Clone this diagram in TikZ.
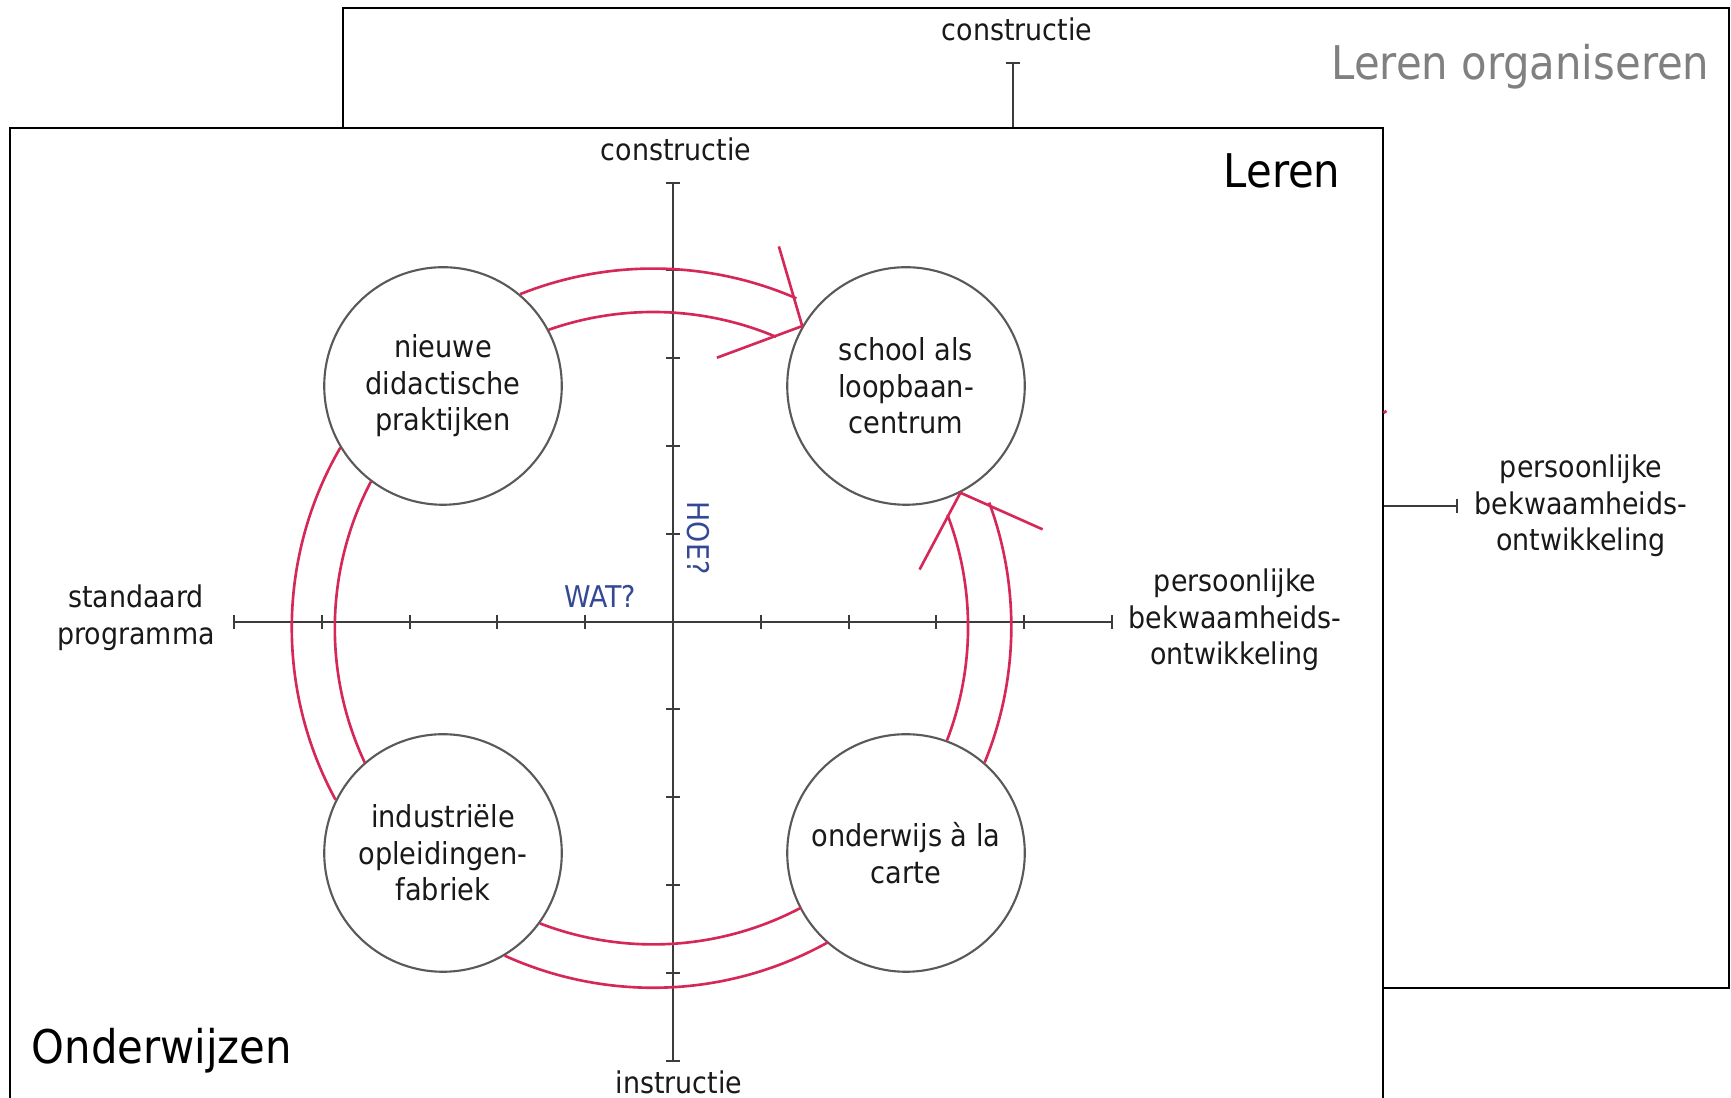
\documentclass[tikz,border=0pt]{standalone}
\usepackage{fontspec}
\setmainfont{DejaVu Sans Condensed}
\usetikzlibrary{calc}
\definecolor{arcred}{RGB}{214,40,88}
\definecolor{qblue}{RGB}{52,72,150}
\definecolor{axisgray}{RGB}{60,60,60}
\begin{document}
\begin{tikzpicture}[x=0.01cm,y=0.01cm,
  panel/.style={draw=black, line width=0.55pt, fill=white},
  axisline/.style={draw=axisgray, line width=0.6pt},
  lbl/.style={font=\fontsize{8.5}{10.4}\selectfont, align=center, text=black!90, inner sep=0pt},
  bigttl/.style={font=\fontsize{13.2}{15}\selectfont, inner sep=0pt},
  stage/.style={circle, draw=black!65, line width=0.6pt, fill=white, minimum size=2.374cm,
                inner sep=0pt, align=center, font=\fontsize{8.6}{10.4}\selectfont, text=black!90},
  band/.style={draw=arcred, line width=0.75pt},
]
\useasboundingbox (0,0) rectangle (1731,1098);

% ---------- back panel: Leren organiseren ----------
\path[panel] (343,110) rectangle (1729,1090);
\node[lbl] (bcon) at (1017,1069) {constructie};
\coordinate (bytop) at (1013,1035);
\coordinate (bybot) at (1013,970);
\draw[axisline] (bybot) -- (bytop);
\draw[axisline] ($(bytop)+(-7,0)$) -- ($(bytop)+(7,0)$);
\node[bigttl, text=black!50, anchor=base east] (lo) at (1710,1018) {Leren organiseren};
\node[lbl] (bpers) at (1581,592) {persoonlijke\\bekwaamheids-\\ontwikkeling};
\coordinate (bxl) at (1383,592);
\coordinate (bxr) at (1457,592);
\draw[axisline] (bxl) -- (bxr);
\draw[axisline] ($(bxr)+(0,-7)$) -- ($(bxr)+(0,7)$);

% ---------- front panel: Leren / Onderwijzen ----------
\path[panel] (10,-10) -- (10,970) -- (1383,970) -- (1383,-10);
\coordinate (stub) at (1383.5,685);
\draw[band] (stub) -- ++(3,2);
\node[bigttl, anchor=base east] (leren) at (1341,910) {Leren};
\node[bigttl, anchor=base west] (ond) at (31,34) {Onderwijzen};

% axes
\coordinate (O) at (673,476.4);
\coordinate (xl) at (234,476.4);
\coordinate (xr) at (1112,476.4);
\coordinate (yt) at (673,915.4);
\coordinate (yb) at (673,37.4);
\draw[axisline] (xl) -- (xr);
\draw[axisline] (yb) -- (yt);
\foreach \k in {-5,...,5}{
  \draw[axisline] ({673+\k*87.8},469.4) -- ++(0,14);
  \draw[axisline] (666,{476.4+\k*87.8}) -- ++(14,0);
}

\node[lbl] (con) at (676,949) {constructie};
\node[lbl] (ins) at (679,16) {instructie};
\node[lbl] (std) at (136,480) {standaard\\programma};
\node[lbl] (pers) at (1235,478) {persoonlijke\\bekwaamheids-\\ontwikkeling};
\node[lbl, text=qblue] (wat) at (600,502) {WAT?};
\node[lbl, text=qblue, rotate=-90] (hoe) at (698,560) {HOE?};

% stages
\node[stage] (tl) at (443,712) {nieuwe\\didactische\\praktijken};
\node[stage] (tr) at (906,712) {school als\\loopbaan-\\centrum};
\node[stage] (bl) at (443,245) {industriële\\opleidingen-\\fabriek};
\node[stage] (br) at (906,245) {onderwijs à la\\carte};

% cycle bands
\draw[band] (tl.50)  arc[start angle=111.78, end angle=66.49, radius=359];
\draw[band] (tl.28)  arc[start angle=109.29, end angle=67.12, radius=316];
\draw[band] (tl.211) arc[start angle=149.86, end angle=208.6, radius=359];
\draw[band] (tl.233) arc[start angle=152.35, end angle=205.2, radius=316];
\draw[band] (bl.301) arc[start angle=245.6, end angle=299.16, radius=359];
\draw[band] (bl.324) arc[start angle=249.0, end angle=297.96, radius=316];
\draw[band] (br.49)  arc[start angle=-22.24, end angle=20.23, radius=359];
\draw[band] (br.70)  arc[start angle=-21.04, end angle=20.76, radius=316];

% open arrowheads
\coordinate (tipa) at (tr.150);
\coordinate (tipa1) at ($(tipa)+(106.35:83)$);
\coordinate (tipa2) at ($(tipa)+(200.35:91)$);
\draw[band] (tipa1) -- (tipa) -- (tipa2);
\coordinate (tipb) at (tr.297);
\coordinate (tipb1) at ($(tipb)+(242:87)$);
\coordinate (tipb2) at ($(tipb)+(336:90)$);
\draw[band] (tipb1) -- (tipb) -- (tipb2);
\end{tikzpicture}
\end{document}
